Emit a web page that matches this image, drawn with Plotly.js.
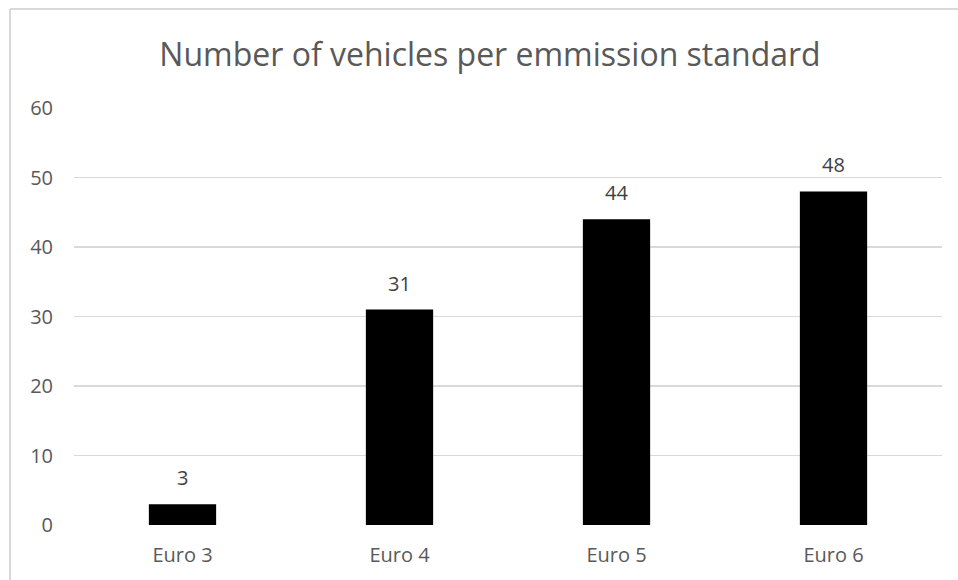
<!DOCTYPE html>
<html><head><meta charset="utf-8">
<script src="https://cdn.plot.ly/plotly-3.0.1.min.js"></script>
<style>html,body{margin:0;padding:0;background:#fff}#chart{width:958px;height:580px}</style>
</head><body><div id="chart"></div>
<script>
const categories = ["Euro 3", "Euro 4", "Euro 5", "Euro 6"];
const vehicles = [3, 31, 44, 48];
const yTicks = [0, 10, 20, 30, 40, 50, 60];
const chartTitle = "Number of vehicles per emmission standard";

const FONT = "'Open Sans', 'Noto Sans', sans-serif";
const trace = {
  type: "bar", x: categories, y: vehicles,
  marker: {color: "#000000"}, hoverinfo: "none"
};
const annotations = categories.map((c, i) => ({
  x: c, y: vehicles[i], xref: "x", yref: "y", text: String(vehicles[i]),
  showarrow: false, yanchor: "bottom", yshift: 11,
  font: {family: FONT, size: 20, color: "#404040"}
}));
const layout = {
  width: 958, height: 580,
  margin: {l: 74, r: 16, t: 108, b: 55},
  paper_bgcolor: "#ffffff", plot_bgcolor: "#ffffff",
  showlegend: false, bargap: 0.69,
  title: {text: chartTitle, x: 490/958, xref: "container", xanchor: "center",
          y: 1 - 55/580, yanchor: "middle",
          font: {family: FONT, size: 32, color: "#595959"}},
  xaxis: {type: "category", showgrid: false, zeroline: false, showline: false,
          ticks: "", tickfont: {family: FONT, size: 20, color: "#595959"},
          ticklabelstandoff: 16},
  yaxis: {range: [0, 60], tickvals: yTicks, ticktext: yTicks.map(String),
          showgrid: true, gridcolor: "#d9d9d9", gridwidth: 1.5,
          zeroline: false, showline: false, ticks: "",
          tickfont: {family: FONT, size: 20, color: "#595959"},
          ticklabelstandoff: 20},
  annotations: annotations,
  shapes: [
    {type: "line", xref: "paper", yref: "paper",
     x0: (10-74)/868, x1: (10-74)/868, y0: (525-580)/417, y1: (525-9)/417,
     line: {color: "#d9d9d9", width: 2}},
    {type: "line", xref: "paper", yref: "paper",
     x0: (10-74)/868, x1: (958-74)/868, y0: (525-9)/417, y1: (525-9)/417,
     line: {color: "#d9d9d9", width: 2}}
  ]
};
Plotly.newPlot("chart", [trace], layout, {staticPlot: true, displayModeBar: false});
</script></body></html>
